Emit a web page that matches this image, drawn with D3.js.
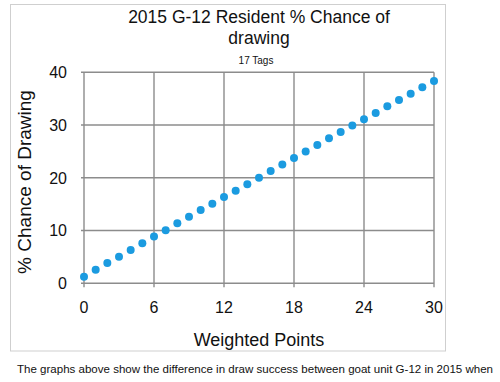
<!DOCTYPE html>
<html><head><meta charset="utf-8">
<script src="https://cdn.jsdelivr.net/npm/d3@7"></script>
<style>body{margin:0;background:#fff}svg{display:block}text{font-family:"Liberation Sans",Arial,sans-serif;fill:#111}</style>
</head><body>
<script>
const weightedPoints = d3.range(0, 31);
const chance = [1.25,2.58,3.85,5.05,6.3,7.58,8.85,10.05,11.37,12.63,13.9,15.1,16.36,17.55,18.8,20.0,21.3,22.5,23.75,25.0,26.2,27.5,28.7,29.9,31.1,32.3,33.55,34.75,35.95,37.15,38.35];
const xTicks = [0,6,12,18,24,30];
const yTicks = [0,10,20,30,40];
const titleLines = ["2015 G-12 Resident % Chance of","drawing"];
const subtitle = "17 Tags";
const xLabel = "Weighted Points";
const yLabel = "% Chance of Drawing";
const caption = "The graphs above show the difference in draw success between goat unit G-12 in 2015 when";

const W=500,H=382;
const svg=d3.select("body").append("svg").attr("width",W).attr("height",H);
svg.append("rect").attr("x",10.5).attr("y",4.5).attr("width",435).attr("height",346.5)
  .attr("fill","#fff").attr("stroke","#cfcfcf").attr("stroke-width",1);

const x=d3.scaleLinear().domain([0,30]).range([84,434]);
const y=d3.scaleLinear().domain([0,40]).range([283.3,72.3]);
const grid="#8c8c8c";
const g=svg.append("g");
g.selectAll(".hg").data(yTicks).join("line")
  .attr("x1",x(0)-3).attr("x2",x(30)).attr("y1",d=>y(d)).attr("y2",d=>y(d))
  .attr("stroke",grid).attr("stroke-width",1.4);
g.selectAll(".vg").data(xTicks).join("line")
  .attr("x1",d=>x(d)).attr("x2",d=>x(d)).attr("y1",y(40)).attr("y2",y(0)+4)
  .attr("stroke",grid).attr("stroke-width",1.4);

svg.selectAll(".yl").data(yTicks).join("text")
  .attr("x",67).attr("y",d=>y(d)).attr("dy","0.36em").attr("text-anchor","end")
  .attr("font-size",16).text(d=>d);
svg.selectAll(".xl").data(xTicks).join("text")
  .attr("x",d=>x(d)).attr("y",313).attr("text-anchor","middle")
  .attr("font-size",16).text(d=>d);

svg.selectAll("circle").data(weightedPoints).join("circle")
  .attr("cx",d=>x(d)).attr("cy",(d,i)=>y(chance[i])).attr("r",4)
  .attr("fill","#1b9be0");

svg.selectAll(".t").data(titleLines).join("text")
  .attr("x",259).attr("y",(d,i)=>23+i*21).attr("text-anchor","middle")
  .attr("font-size",17.5).text(d=>d);
svg.append("text").attr("x",256).attr("y",64).attr("text-anchor","middle")
  .attr("font-size",10).text(subtitle);
svg.append("text").attr("x",259).attr("y",346).attr("text-anchor","middle")
  .attr("font-size",18).text(xLabel);
svg.append("text").attr("transform","translate(31,182) rotate(-90)").attr("text-anchor","middle")
  .attr("font-size",19).text(yLabel);
svg.append("text").attr("x",17).attr("y",373).attr("font-size",11)
  .attr("textLength",476).attr("lengthAdjust","spacingAndGlyphs").text(caption);
</script>
</body></html>
